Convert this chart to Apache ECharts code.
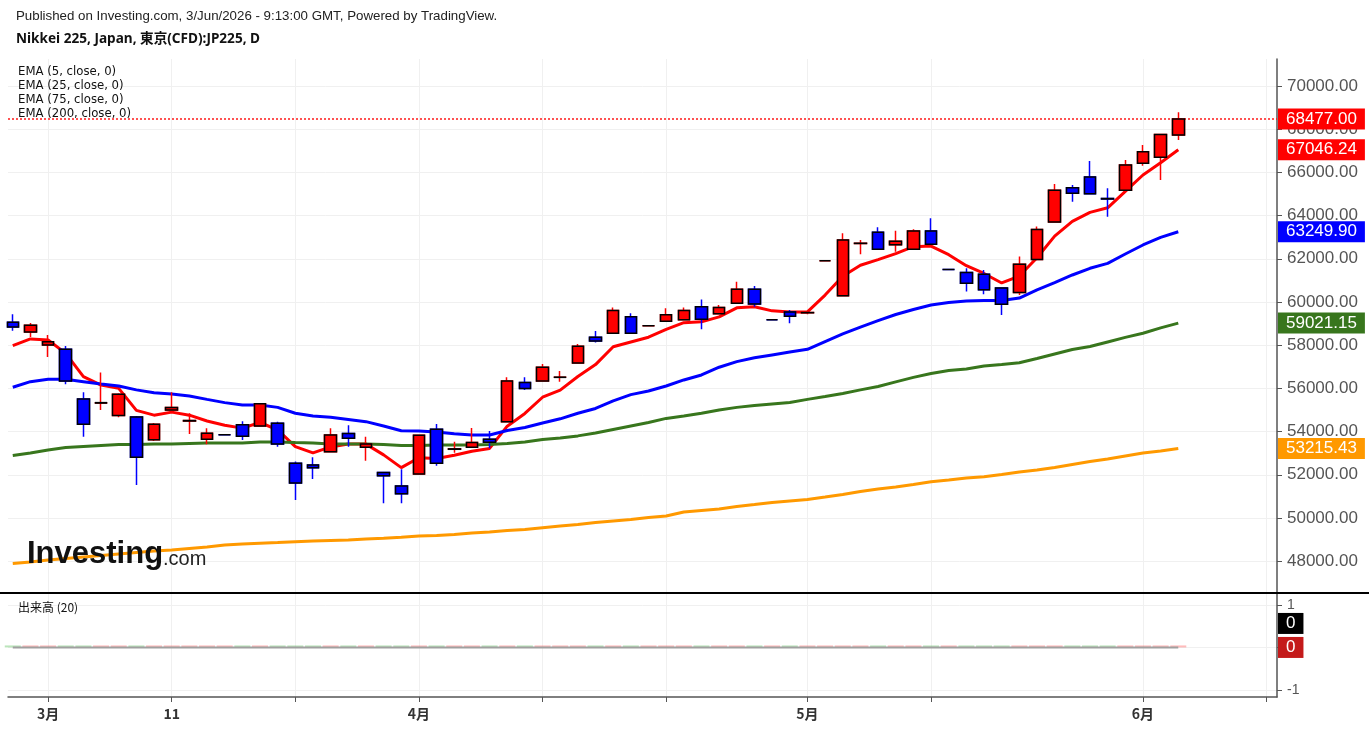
<!DOCTYPE html>
<html>
<head>
<meta charset="utf-8">
<title>Nikkei 225, Japan, 東京(CFD):JP225, D</title>
<script src="https://cdn.jsdelivr.net/npm/echarts@6/dist/echarts.min.js"></script>
<style>
    html, body { margin: 0; padding: 0; background: #fff; }
    #ch-main { width: 1369px; height: 730px; }
</style>
</head>
<body>
<div id="ch-main"></div>
<script>
// daily bars (index 0 = first bar on the left)
var open = [59060, 58610, 58010, 57810, 55510, 55320, 54740, 54680, 53620, 55000,
    54490, 53640, 53850, 54320, 54260, 54380, 52530, 52450, 53070, 53910,
    53270, 52110, 51480, 52040, 54110, 53180, 53270, 53640, 54460, 56270,
    56340, 56510, 57170, 58370, 58550, 59320, 58900, 59110, 59180, 59780,
    59460, 59940, 60590, 59180, 59540, 59500, 61910, 60290, 62710, 63230,
    62650, 62440, 63290, 61500, 61360, 61280, 60650, 60440, 61970, 63700,
    65290, 65790, 64790, 65170, 66420, 66700, 67730];
var close = [58840, 58920, 58160, 56340, 54340, 55340, 55730, 52810, 54340, 55120,
    54510, 53920, 53850, 53780, 55290, 53430, 51620, 52330, 53840, 53690,
    53430, 51960, 51120, 53830, 52530, 53200, 53490, 53500, 56340, 55990,
    56980, 56520, 57950, 58190, 59600, 58550, 58900, 59410, 59600, 59200,
    59740, 60590, 59910, 59180, 59340, 59510, 61910, 62870, 62720, 62440,
    62810, 63290, 62670, 61500, 60870, 60570, 59890, 61750, 63360, 65170,
    65030, 65010, 64770, 66340, 66960, 67750, 68477];
var low = [58670, 58380, 57450, 56190, 53760, 55000, 54660, 51530, 53560, 54990,
    53890, 53410, 53850, 53610, 54250, 53300, 50830, 51800, 53050, 53300,
    52650, 50680, 50680, 52030, 52420, 53020, 53260, 53230, 54450, 55930,
    56330, 56310, 57160, 58120, 58540, 58540, 58900, 59100, 59170, 58740,
    59450, 59930, 59780, 59180, 59010, 59430, 61910, 60280, 62210, 62430,
    62330, 62430, 62660, 61500, 60480, 60360, 59400, 60320, 61960, 63690,
    64640, 65000, 63950, 65160, 66310, 65650, 67500];
var high = [59430, 59030, 58470, 57960, 55820, 56730, 55770, 54720, 54400, 55820,
    54850, 54150, 53850, 54480, 55300, 54460, 52610, 52810, 54150, 54290,
    53760, 52120, 52250, 53840, 54350, 53530, 54170, 54030, 56510, 56510,
    57130, 56800, 58060, 58660, 59750, 59480, 58900, 59710, 59750, 60120,
    59860, 60940, 60740, 59180, 59630, 59580, 61910, 63180, 62870, 63460,
    63300, 63370, 63880, 61500, 61560, 61480, 60650, 62110, 63500, 65460,
    65420, 66530, 65260, 66570, 67270, 67760, 68780];

// moving averages as drawn
var ema5 = [57980, 58290, 58240, 57620, 56540, 56150, 56000, 54980, 54760, 54900,
    54760, 54490, 54290, 54160, 54420, 54080, 53300, 53010, 53290, 53420,
    53420, 52920, 52330, 52790, 52750, 52900, 53090, 53220, 54250, 54840,
    55590, 55920, 56550, 57100, 57930, 58150, 58370, 58730, 59040, 59080,
    59310, 59730, 59780, 59590, 59540, 59540, 60320, 61190, 61700, 61960,
    62240, 62560, 62590, 62190, 61680, 61320, 60880, 61200, 62050, 63050,
    63730, 64150, 64360, 65120, 65880, 66450, 67046.24];
var ema25 = [56050, 56310, 56420, 56420, 56310, 56200, 56110, 55930, 55800, 55740,
    55650, 55490, 55340, 55230, 55230, 55120, 54850, 54720, 54660, 54560,
    54460, 54260, 54040, 54030, 53980, 53900, 53840, 53840, 54050, 54190,
    54400, 54590, 54850, 55070, 55420, 55710, 55880, 56110, 56390, 56620,
    56980, 57240, 57420, 57550, 57680, 57810, 58170, 58520, 58840, 59140,
    59420, 59650, 59860, 59980, 60050, 60070, 60070, 60180, 60560, 60900,
    61250, 61560, 61790, 62220, 62640, 62990, 63249.90];
var ema75 = [52890, 53010, 53150, 53260, 53310, 53360, 53400, 53400, 53430, 53430,
    53450, 53470, 53470, 53470, 53520, 53520, 53490, 53470, 53430, 53430,
    53430, 53400, 53360, 53360, 53380, 53380, 53380, 53400, 53450, 53520,
    53630, 53700, 53800, 53930, 54100, 54260, 54420, 54610, 54720, 54850,
    55000, 55120, 55210, 55280, 55350, 55490, 55620, 55760, 55930, 56090,
    56300, 56510, 56690, 56830, 56900, 57040, 57110, 57190, 57380, 57590,
    57800, 57940, 58150, 58360, 58550, 58800, 59021.15];
var ema200 = [47890, 47960, 48050, 48120, 48190, 48260, 48330, 48400, 48470, 48520,
    48590, 48660, 48750, 48800, 48830, 48860, 48900, 48930, 48960, 48980,
    49030, 49060, 49110, 49170, 49190, 49230, 49300, 49350, 49420, 49470,
    49550, 49630, 49700, 49790, 49860, 49930, 50020, 50090, 50280, 50350,
    50420, 50530, 50620, 50720, 50790, 50860, 50970, 51090, 51230, 51340,
    51430, 51550, 51680, 51760, 51850, 51910, 52010, 52130, 52220, 52340,
    52480, 52610, 52730, 52870, 53010, 53100, 53215.43];

// volume pane (the CFD reports no volume)
var volume = [0, 0, 0, 0, 0, 0, 0, 0, 0, 0, 0, 0, 0, 0, 0, 0, 0, 0, 0, 0,
    0, 0, 0, 0, 0, 0, 0, 0, 0, 0, 0, 0, 0, 0, 0, 0, 0, 0, 0, 0,
    0, 0, 0, 0, 0, 0, 0, 0, 0, 0, 0, 0, 0, 0, 0, 0, 0, 0, 0, 0,
    0, 0, 0, 0, 0, 0, 0];
var volumeMa = [0, 0, 0, 0, 0, 0, 0, 0, 0, 0, 0, 0, 0, 0, 0, 0, 0, 0, 0, 0,
    0, 0, 0, 0, 0, 0, 0, 0, 0, 0, 0, 0, 0, 0, 0, 0, 0, 0, 0, 0,
    0, 0, 0, 0, 0, 0, 0, 0, 0, 0, 0, 0, 0, 0, 0, 0, 0, 0, 0, 0,
    0, 0, 0, 0, 0, 0, 0];

// axis ticks / labels
var xTicks = [2, 9, 16, 23, 30, 37, 45, 52, 64, 71];
var xLabelIdx = [2, 9, 23, 45, 64];
var xLabelText = ['3月', '11', '4月', '5月', '6月'];
var yTicks = [48000, 50000, 52000, 54000, 56000, 58000, 60000, 62000, 64000, 66000, 68000, 70000];
var volTicks = [-1, 0, 1];
var emaNames = ['EMA (5, close, 0)', 'EMA (25, close, 0)', 'EMA (75, close, 0)', 'EMA (200, close, 0)'];

var UP = '#ff0000', DOWN = '#0000ff';
var FONT = '"Liberation Sans", Arial, sans-serif';
var LEGEND_FONT = '13px "Liberation Sans Narrow", "DejaVu Sans Condensed", sans-serif';

function pairs(arr) {
    return arr.map(function (v, i) { return [i, v]; });
}

function tagLabel(text, bg, offsetY) {
    return {
        show: true, position: 'end', distance: 1,
        formatter: text,
        backgroundColor: bg, color: '#fff',
        fontSize: 17, fontFamily: FONT,
        padding: [2, 8, 2, 8], offset: [0, offsetY || 0]
    };
}

// right-hand price tag drawn as a markLine label
function tag(value, bg, offsetY, text) {
    return {
        symbol: 'none',
        silent: true,
        animation: false,
        lineStyle: {width: 0, color: 'rgba(0,0,0,0)'},
        label: tagLabel(text != null ? text : value.toFixed(2), bg, offsetY),
        data: [{yAxis: value}]
    };
}

var last = close.length - 1;
var candles = close.map(function (c, i) { return [i, open[i], c, low[i], high[i]]; });
var bodies = close.map(function (c, i) { return [i, open[i], c, Math.min(open[i], c), Math.max(open[i], c)]; });
var volBars = volume.map(function (v, i) {
    return {value: [i, v], itemStyle: {color: close[i] >= open[i] ? 'rgba(255,60,60,0.35)' : 'rgba(60,180,60,0.35)'}};
});

var xCommon = {
    type: 'value', min: -0.27, max: 71.59,
    splitLine: {show: true, lineStyle: {color: '#f0f0f0', width: 1}},
    axisTick: {customValues: xTicks},
    axisLabel: {customValues: xLabelIdx}
};

var myChart = echarts.init(document.getElementById('ch-main'));

var option = {
    animation: false,
    backgroundColor: '#fff',
    grid: [
        {left: 8, top: 59, width: 1269, height: 534},
        {left: 8, top: 593, width: 1269, height: 104}
    ],
    xAxis: [
        echarts.util.merge({
            gridIndex: 0,
            axisLine: {show: false},
            axisTick: {show: false},
            axisLabel: {show: false}
        }, xCommon, true),
        echarts.util.merge({
            gridIndex: 1,
            axisLine: {show: true, onZero: false, lineStyle: {color: '#555', width: 1.5}},
            axisTick: {show: true, length: 5, lineStyle: {color: '#555'}},
            axisLabel: {
                show: true, margin: 10, color: '#333', fontSize: 14, fontWeight: 'bold',
                fontFamily: '"Noto Sans CJK JP", sans-serif',
                formatter: function (v) {
                    var k = xLabelIdx.indexOf(Math.round(v));
                    return k >= 0 ? xLabelText[k] : '';
                }
            }
        }, xCommon, true)
    ],
    yAxis: [
        {
            gridIndex: 0, type: 'value', position: 'right',
            min: 46526, max: 71250,
            axisLine: {show: true, onZero: false, lineStyle: {color: '#555', width: 1.5}},
            axisTick: {show: true, length: 5, customValues: yTicks, lineStyle: {color: '#555'}},
            axisLabel: {
                customValues: yTicks, margin: 10, color: '#555', fontSize: 17, fontFamily: FONT,
                formatter: function (v) { return v.toFixed(2); }
            },
            splitLine: {show: true, lineStyle: {color: '#f0f0f0'}}
        },
        {
            gridIndex: 1, type: 'value', position: 'right',
            min: -1.165, max: 1.28,
            axisLine: {show: true, onZero: false, lineStyle: {color: '#555', width: 1.5}},
            axisTick: {show: true, length: 5, customValues: volTicks, lineStyle: {color: '#555'}},
            axisLabel: {customValues: volTicks, margin: 10, color: '#555', fontSize: 14, fontFamily: FONT},
            splitLine: {show: true, lineStyle: {color: '#f0f0f0'}}
        }
    ],
    series: [
        {   // wicks in the candle colour
            name: 'wick', type: 'candlestick', xAxisIndex: 0, yAxisIndex: 0,
            data: candles, barWidth: 12, z: 5,
            encode: {x: 0, y: [1, 2, 3, 4]},
            itemStyle: {color: UP, color0: DOWN, borderColor: UP, borderColor0: DOWN, borderWidth: 1.5}
        },
        {   // bodies with black outline
            name: 'body', type: 'candlestick', xAxisIndex: 0, yAxisIndex: 0,
            data: bodies, barWidth: 12, z: 6,
            encode: {x: 0, y: [1, 2, 3, 4]},
            itemStyle: {color: UP, color0: DOWN, borderColor: '#000', borderColor0: '#000', borderWidth: 1.5}
        },
        {   // last price: red dotted line + tag
            name: 'last', type: 'line', data: [], color: UP, z: 4,
            markLine: {
                symbol: 'none', silent: true, animation: false,
                lineStyle: {color: '#ff1a1a', type: [2, 2], width: 1.5, opacity: 1},
                label: tagLabel(close[last].toFixed(2), UP),
                data: [{yAxis: close[last]}]
            }
        },
        {
            name: emaNames[0], type: 'line', data: pairs(ema5), showSymbol: false, z: 3,
            lineStyle: {color: '#ff0000', width: 3}, itemStyle: {color: '#ff0000'},
            markLine: tag(ema5[last], '#ff0000')
        },
        {
            name: emaNames[1], type: 'line', data: pairs(ema25), showSymbol: false, z: 3,
            lineStyle: {color: '#0000ff', width: 3}, itemStyle: {color: '#0000ff'},
            markLine: tag(ema25[last], '#0000ff')
        },
        {
            name: emaNames[2], type: 'line', data: pairs(ema75), showSymbol: false, z: 3,
            lineStyle: {color: '#38761d', width: 3}, itemStyle: {color: '#38761d'},
            markLine: tag(ema75[last], '#38761d')
        },
        {
            name: emaNames[3], type: 'line', data: pairs(ema200), showSymbol: false, z: 3,
            lineStyle: {color: '#ff9900', width: 3}, itemStyle: {color: '#ff9900'},
            markLine: tag(ema200[last], '#ff9900')
        },
        {
            name: '出来高', type: 'bar', xAxisIndex: 1, yAxisIndex: 1,
            data: volBars, barWidth: 16, barMinHeight: 2,
            markLine: tag(volume[last], '#c41a1a', 0, String(volume[last]))
        },
        {
            name: '出来高 MA', type: 'line', xAxisIndex: 1, yAxisIndex: 1,
            data: pairs(volumeMa), showSymbol: false, z: 4,
            lineStyle: {color: '#a0a0a0', width: 2},
            markLine: tag(volumeMa[last], '#000', -24, String(volumeMa[last]))
        }
    ],
    graphic: [
        {type: 'text', left: 16, top: 10, style: {text: 'Published on Investing.com, 3/Jun/2026 - 9:13:00 GMT, Powered by TradingView.', font: '13.3px ' + FONT, fill: '#222'}},
        {type: 'text', left: 16, top: 32, style: {text: 'Nikkei 225, Japan, 東京(CFD):JP225, D', font: 'bold 13.6px "Noto Sans", "Noto Sans CJK JP", sans-serif', fill: '#111'}},
        {type: 'text', left: 18, top: 65, z: 20, style: {text: emaNames[0], font: LEGEND_FONT, fill: '#111'}},
        {type: 'text', left: 18, top: 79, z: 20, style: {text: emaNames[1], font: LEGEND_FONT, fill: '#111'}},
        {type: 'text', left: 18, top: 93, z: 20, style: {text: emaNames[2], font: LEGEND_FONT, fill: '#111'}},
        {type: 'text', left: 18, top: 107, z: 20, style: {text: emaNames[3], font: LEGEND_FONT, fill: '#111'}},
        {type: 'text', left: 18, top: 601, z: 20, style: {text: '出来高 (20)', font: '12px "Noto Sans CJK JP", sans-serif', fill: '#111'}},
        // logo
        {type: 'text', left: 27, top: 539, z: 20, style: {text: 'Investing', font: 'bold 31px ' + FONT, fill: '#111'}},
        {type: 'text', left: 163, top: 549, z: 20, style: {text: '.com', font: '20px ' + FONT, fill: '#222'}},
        // pane separator
        {type: 'line', z: 20, shape: {x1: 0, y1: 593, x2: 1369, y2: 593}, style: {stroke: '#000', lineWidth: 2}}
    ]
};

myChart.setOption(option);
</script>
</body>
</html>
